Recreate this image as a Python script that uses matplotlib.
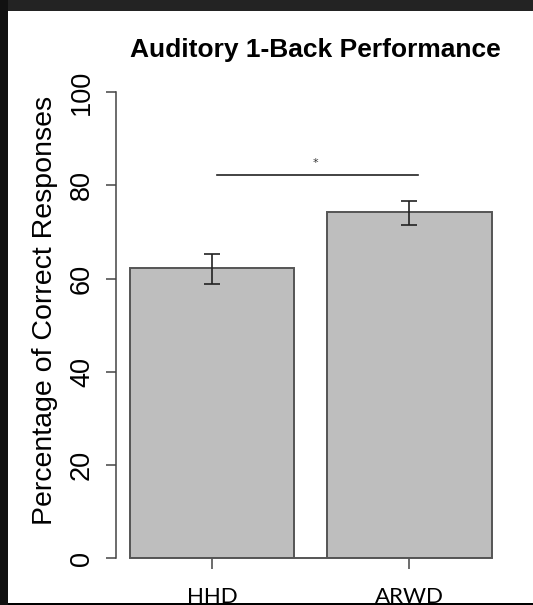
import matplotlib.pyplot as plt
from matplotlib.patches import Rectangle

groups = ["HHD", "ARWD"]
means = [62.3, 74.3]
err_low = [58.9, 71.5]
err_high = [65.3, 76.6]
sig_level = 82.2
sig_label = "*"
yticks = [0, 20, 40, 60, 80, 100]

W, H = 533, 605
fig = plt.figure(figsize=(W / 100, H / 100), dpi=100)
fig.patch.set_facecolor("#232323")

# white slide panel behind the chart
fig.patches.append(Rectangle((8 / W, 2 / H), 1, (603 - 11) / H, transform=fig.transFigure,
                             facecolor="white", edgecolor="none", zorder=-5))

# axes placed in pixels: spine at x=116, y=0 at 558, y=100 at 92
ax_left, ax_right = 116, 520
ax_top, ax_bottom = 92.3, 558
ax = fig.add_axes([ax_left / W, 1 - ax_bottom / H, (ax_right - ax_left) / W, (ax_bottom - ax_top) / H])
ax.patch.set_alpha(0)

# R barplot layout: width 1, space 0.2 -> centers 0.7, 1.9
x = [0.7, 1.9]
px_per_unit = 164.5
x0 = 0.7 - (212 - ax_left) / px_per_unit
ax.set_xlim(x0, x0 + (ax_right - ax_left) / px_per_unit)
ax.set_ylim(0, 100)

ax.bar(x, means, width=1.0, color="#bebebe", edgecolor="#555555", linewidth=1.4, zorder=2)
ax.plot([x[0] - 0.5, x[1] + 0.5], [0, 0], color="#555555", lw=1.4, zorder=3, clip_on=False)

yerr = [[m - lo for m, lo in zip(means, err_low)], [hi - m for m, hi in zip(means, err_high)]]
ax.errorbar(x, means, yerr=yerr, fmt="none", ecolor="#222222", elinewidth=1.2, capsize=6, capthick=1.2, zorder=4)

ax.plot([x[0] + 0.03, x[1] + 0.05], [sig_level, sig_level], color="#222222", lw=1.2)
ax.text((x[0] + x[1]) / 2 + 0.03, sig_level + 1.5, sig_label, ha="center", va="bottom", fontsize=8, color="#333333")

for s in ["top", "right", "bottom"]:
    ax.spines[s].set_visible(False)
ax.spines["left"].set_color("#444444")
ax.spines["left"].set_linewidth(1.1)

ax.set_yticks(yticks)
ax.set_yticklabels([str(t) for t in yticks], rotation=90, va="center",
                   fontsize=19.5, family="Liberation Sans")
ax.tick_params(axis="y", length=7.2, width=1.1, color="#444444", pad=8)
ax.set_xticks(x)
ax.set_xticklabels(groups, fontsize=16, family="Lato")
ax.tick_params(axis="x", length=8, width=1.1, color="#444444", pad=13)

ax.set_ylabel("Percentage of Correct Responses", fontsize=20.5, family="Liberation Sans")
ax.yaxis.set_label_coords((58 - ax_left) / (ax_right - ax_left), (ax_bottom - 310) / (ax_bottom - ax_top))

fig.text(315 / W, 1 - 50 / H, "Auditory 1-Back Performance", ha="center", va="center",
         fontsize=19, fontweight="bold", family="Liberation Sans")

# black strip at the very bottom that cuts the x labels
fig.patches.append(Rectangle((0, 0), 1, 2 / H, transform=fig.transFigure,
                             facecolor="black", edgecolor="none", zorder=20))
fig.patches.append(Rectangle((0, 0), 8 / W, 1, transform=fig.transFigure,
                             facecolor="#111111", edgecolor="none", zorder=20))

fig.savefig("out.png", dpi=100, facecolor=fig.get_facecolor())
